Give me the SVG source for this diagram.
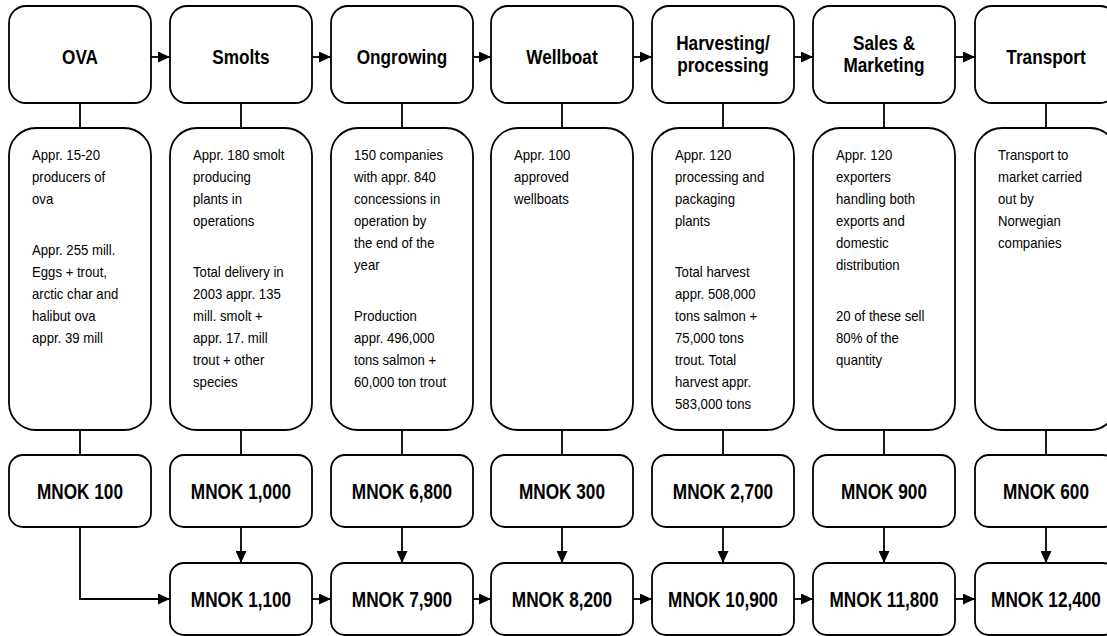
<svg xmlns="http://www.w3.org/2000/svg" width="1107" height="636" viewBox="0 0 1107 636">
<style>
.box{fill:#fff;stroke:#000;stroke-width:1.8}
.title{font-family:"Liberation Sans",Arial,sans-serif;font-weight:bold;font-size:20px;text-anchor:middle;fill:#000}
.mnok{font-family:"Liberation Sans",Arial,sans-serif;font-weight:bold;font-size:21.5px;text-anchor:middle;fill:#000}
.body{font-family:"Liberation Sans",Arial,sans-serif;font-size:14px;fill:#000}
.conn{stroke:#000;stroke-width:1.8;fill:none}
.arr{marker-end:url(#ah)}
</style>
<defs>
<marker id="ah" markerWidth="12" markerHeight="11" refX="12" refY="5.5" orient="auto" markerUnits="userSpaceOnUse"><path d="M0,0 L12,5.5 L0,11 Z" fill="#000"/></marker>
</defs>
<g id="connectors">
<path class="conn arr" d="M151,57 H170"/>
<path class="conn arr" d="M312,57 H331"/>
<path class="conn arr" d="M473,57 H491"/>
<path class="conn arr" d="M633,57 H652"/>
<path class="conn arr" d="M794,57 H813"/>
<path class="conn arr" d="M955,57 H975"/>
<path class="conn" d="M80,103 V128 M241,103 V128 M402,103 V128 M562,103 V128 M723,103 V128 M884,103 V128 M1046,103 V128"/>
<path class="conn" d="M80,430 V455 M241,430 V455 M402,430 V455 M562,430 V455 M723,430 V455 M884,430 V455 M1046,430 V455"/>
<path class="conn arr" d="M241,527 V563"/>
<path class="conn arr" d="M402,527 V563"/>
<path class="conn arr" d="M562,527 V563"/>
<path class="conn arr" d="M723,527 V563"/>
<path class="conn arr" d="M884,527 V563"/>
<path class="conn arr" d="M1046,527 V563"/>
<path class="conn arr" d="M80,527 V599 H170"/>
<path class="conn arr" d="M312,599 H331"/>
<path class="conn arr" d="M473,599 H491"/>
<path class="conn arr" d="M633,599 H652"/>
<path class="conn arr" d="M794,599 H813"/>
<path class="conn arr" d="M955,599 H975"/>
</g>

<g id="ova">
<rect class="box" x="9" y="6" width="142" height="97" rx="17"/>
<text class="title" transform="translate(80,64) scale(0.86,1)">OVA</text>
</g>
<g id="smolts">
<rect class="box" x="170" y="6" width="142" height="97" rx="17"/>
<text class="title" transform="translate(241,64) scale(0.86,1)">Smolts</text>
</g>
<g id="ongrowing">
<rect class="box" x="331" y="6" width="142" height="97" rx="17"/>
<text class="title" transform="translate(402,64) scale(0.86,1)">Ongrowing</text>
</g>
<g id="wellboat">
<rect class="box" x="491" y="6" width="142" height="97" rx="17"/>
<text class="title" transform="translate(562,64) scale(0.86,1)">Wellboat</text>
</g>
<g id="harvesting">
<rect class="box" x="652" y="6" width="142" height="97" rx="17"/>
<text class="title" transform="translate(723,50) scale(0.86,1)">Harvesting/</text>
<text class="title" transform="translate(723,72) scale(0.86,1)">processing</text>
</g>
<g id="sales">
<rect class="box" x="813" y="6" width="142" height="97" rx="17"/>
<text class="title" transform="translate(884,50) scale(0.86,1)">Sales &amp;</text>
<text class="title" transform="translate(884,72) scale(0.86,1)">Marketing</text>
</g>
<g id="transport">
<rect class="box" x="975" y="6" width="142" height="97" rx="17"/>
<text class="title" transform="translate(1046,64) scale(0.86,1)">Transport</text>
</g>

<g id="ova-desc">
<rect class="box" x="9" y="128" width="142" height="302" rx="27"/>
<g transform="translate(32,0) scale(0.94,1)">
<text class="body" x="0" y="160">Appr. 15-20</text>
<text class="body" x="0" y="182">producers of</text>
<text class="body" x="0" y="204">ova</text>
<text class="body" x="0" y="255">Appr. 255 mill.</text>
<text class="body" x="0" y="277">Eggs + trout,</text>
<text class="body" x="0" y="299">arctic char and</text>
<text class="body" x="0" y="321">halibut ova</text>
<text class="body" x="0" y="343">appr. 39 mill</text>
</g>
</g>
<g id="smolts-desc">
<rect class="box" x="170" y="128" width="142" height="302" rx="27"/>
<g transform="translate(193,0) scale(0.94,1)">
<text class="body" x="0" y="160">Appr. 180 smolt</text>
<text class="body" x="0" y="182">producing</text>
<text class="body" x="0" y="204">plants in</text>
<text class="body" x="0" y="226">operations</text>
<text class="body" x="0" y="277">Total delivery in</text>
<text class="body" x="0" y="299">2003 appr. 135</text>
<text class="body" x="0" y="321">mill. smolt +</text>
<text class="body" x="0" y="343">appr. 17. mill</text>
<text class="body" x="0" y="365">trout + other</text>
<text class="body" x="0" y="387">species</text>
</g>
</g>
<g id="ongrowing-desc">
<rect class="box" x="331" y="128" width="142" height="302" rx="27"/>
<g transform="translate(354,0) scale(0.94,1)">
<text class="body" x="0" y="160">150 companies</text>
<text class="body" x="0" y="182">with appr. 840</text>
<text class="body" x="0" y="204">concessions in</text>
<text class="body" x="0" y="226">operation by</text>
<text class="body" x="0" y="248">the end of the</text>
<text class="body" x="0" y="270">year</text>
<text class="body" x="0" y="321">Production</text>
<text class="body" x="0" y="343">appr. 496,000</text>
<text class="body" x="0" y="365">tons salmon +</text>
<text class="body" x="0" y="387">60,000 ton trout</text>
</g>
</g>
<g id="wellboat-desc">
<rect class="box" x="491" y="128" width="142" height="302" rx="27"/>
<g transform="translate(514,0) scale(0.94,1)">
<text class="body" x="0" y="160">Appr. 100</text>
<text class="body" x="0" y="182">approved</text>
<text class="body" x="0" y="204">wellboats</text>
</g>
</g>
<g id="harvesting-desc">
<rect class="box" x="652" y="128" width="142" height="302" rx="27"/>
<g transform="translate(675,0) scale(0.94,1)">
<text class="body" x="0" y="160">Appr. 120</text>
<text class="body" x="0" y="182">processing and</text>
<text class="body" x="0" y="204">packaging</text>
<text class="body" x="0" y="226">plants</text>
<text class="body" x="0" y="277">Total harvest</text>
<text class="body" x="0" y="299">appr. 508,000</text>
<text class="body" x="0" y="321">tons salmon +</text>
<text class="body" x="0" y="343">75,000 tons</text>
<text class="body" x="0" y="365">trout. Total</text>
<text class="body" x="0" y="387">harvest appr.</text>
<text class="body" x="0" y="409">583,000 tons</text>
</g>
</g>
<g id="sales-desc">
<rect class="box" x="813" y="128" width="142" height="302" rx="27"/>
<g transform="translate(836,0) scale(0.94,1)">
<text class="body" x="0" y="160">Appr. 120</text>
<text class="body" x="0" y="182">exporters</text>
<text class="body" x="0" y="204">handling both</text>
<text class="body" x="0" y="226">exports and</text>
<text class="body" x="0" y="248">domestic</text>
<text class="body" x="0" y="270">distribution</text>
<text class="body" x="0" y="321">20 of these sell</text>
<text class="body" x="0" y="343">80% of the</text>
<text class="body" x="0" y="365">quantity</text>
</g>
</g>
<g id="transport-desc">
<rect class="box" x="975" y="128" width="142" height="302" rx="27"/>
<g transform="translate(998,0) scale(0.94,1)">
<text class="body" x="0" y="160">Transport to</text>
<text class="body" x="0" y="182">market carried</text>
<text class="body" x="0" y="204">out by</text>
<text class="body" x="0" y="226">Norwegian</text>
<text class="body" x="0" y="248">companies</text>
</g>
</g>

<g id="ova-value">
<rect class="box" x="9" y="455" width="142" height="72" rx="14"/>
<text class="mnok" transform="translate(80,499) scale(0.8,1)">MNOK 100</text>
</g>
<g id="smolts-value">
<rect class="box" x="170" y="455" width="142" height="72" rx="14"/>
<text class="mnok" transform="translate(241,499) scale(0.8,1)">MNOK 1,000</text>
</g>
<g id="ongrowing-value">
<rect class="box" x="331" y="455" width="142" height="72" rx="14"/>
<text class="mnok" transform="translate(402,499) scale(0.8,1)">MNOK 6,800</text>
</g>
<g id="wellboat-value">
<rect class="box" x="491" y="455" width="142" height="72" rx="14"/>
<text class="mnok" transform="translate(562,499) scale(0.8,1)">MNOK 300</text>
</g>
<g id="harvesting-value">
<rect class="box" x="652" y="455" width="142" height="72" rx="14"/>
<text class="mnok" transform="translate(723,499) scale(0.8,1)">MNOK 2,700</text>
</g>
<g id="sales-value">
<rect class="box" x="813" y="455" width="142" height="72" rx="14"/>
<text class="mnok" transform="translate(884,499) scale(0.8,1)">MNOK 900</text>
</g>
<g id="transport-value">
<rect class="box" x="975" y="455" width="142" height="72" rx="14"/>
<text class="mnok" transform="translate(1046,499) scale(0.8,1)">MNOK 600</text>
</g>

<g id="cum-smolts">
<rect class="box" x="170" y="563" width="142" height="72" rx="14"/>
<text class="mnok" transform="translate(241,607) scale(0.8,1)">MNOK 1,100</text>
</g>
<g id="cum-ongrowing">
<rect class="box" x="331" y="563" width="142" height="72" rx="14"/>
<text class="mnok" transform="translate(402,607) scale(0.8,1)">MNOK 7,900</text>
</g>
<g id="cum-wellboat">
<rect class="box" x="491" y="563" width="142" height="72" rx="14"/>
<text class="mnok" transform="translate(562,607) scale(0.8,1)">MNOK 8,200</text>
</g>
<g id="cum-harvesting">
<rect class="box" x="652" y="563" width="142" height="72" rx="14"/>
<text class="mnok" transform="translate(723,607) scale(0.8,1)">MNOK 10,900</text>
</g>
<g id="cum-sales">
<rect class="box" x="813" y="563" width="142" height="72" rx="14"/>
<text class="mnok" transform="translate(884,607) scale(0.8,1)">MNOK 11,800</text>
</g>
<g id="cum-transport">
<rect class="box" x="975" y="563" width="142" height="72" rx="14"/>
<text class="mnok" transform="translate(1046,607) scale(0.8,1)">MNOK 12,400</text>
</g>
</svg>
